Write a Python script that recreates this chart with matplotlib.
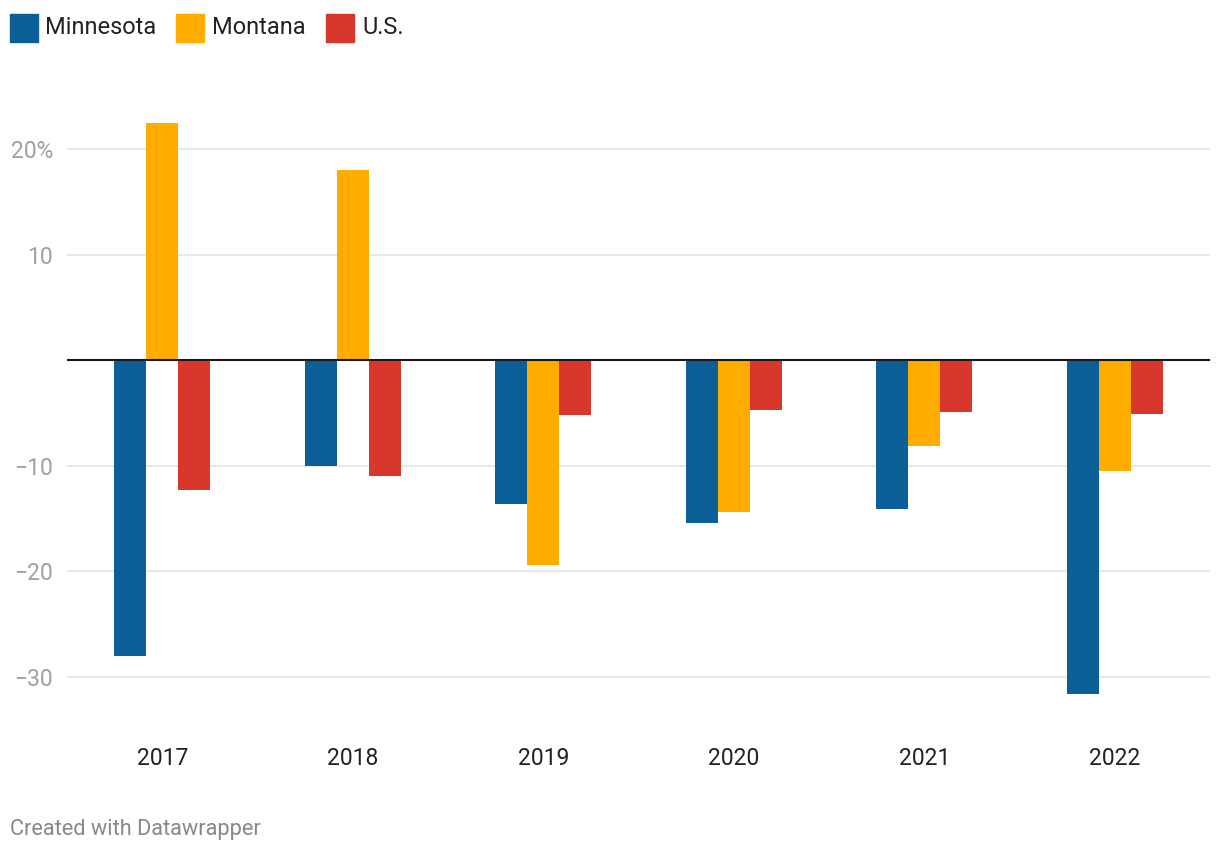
import matplotlib
matplotlib.use("Agg")
import matplotlib.pyplot as plt
import numpy as np
from matplotlib.patches import Rectangle

plt.rcParams['font.family'] = ['Roboto', 'DejaVu Sans']

years = ["2017", "2018", "2019", "2020", "2021", "2022"]
series_names = ["Minnesota", "Montana", "U.S."]
minnesota = [-28.0, -10.0, -13.6, -15.4, -14.1, -31.6]
montana = [22.5, 18.0, -19.4, -14.4, -8.1, -10.5]
us = [-12.3, -11.0, -5.2, -4.7, -4.9, -5.1]
colors = ["#0a5f96", "#ffab00", "#d8372b"]
yticks = [-30, -20, -10, 10, 20]
ytick_labels = ["\u221230", "\u221220", "\u221210", "10", "20%"]

W, H = 1220, 852
fig = plt.figure(figsize=(W / 100, H / 100), dpi=100)
ax_left, ax_right = 67, 1210
ax_top, ax_bot = 107, 719
ax = fig.add_axes([ax_left / W, 1 - ax_bot / H, (ax_right - ax_left) / W, (ax_bot - ax_top) / H])
ax.set_xlim(-0.5, 5.5)
ax.set_ylim(-34, 24)

x = np.arange(len(years))
bw = 0.168
for i, (vals, c) in enumerate(zip([minnesota, montana, us], colors)):
    ax.bar(x + (i - 1) * bw, vals, width=bw, color=c, zorder=3, linewidth=0)

for t in yticks:
    ax.axhline(t, color="#e3e3e3", lw=1.2, zorder=1)
ax.axhline(0, color="#1a1a1a", lw=1.5, zorder=5)

for s in ax.spines.values():
    s.set_visible(False)
ax.set_yticks(yticks)
ax.set_yticklabels(ytick_labels)
ax.tick_params(axis="y", length=0, pad=10, labelsize=16.5, labelcolor="#a0a0a0")
ax.set_xticks(x)
ax.set_xticklabels(years)
ax.tick_params(axis="x", length=0, pad=20, labelsize=16.5, labelcolor="#222222")

# legend
leg_items = [(10, 45), (176, 212), (326, 362)]
for (sx, tx), name, c in zip(leg_items, series_names, colors):
    fig.patches.append(Rectangle((sx / W, 1 - 42 / H), 28 / W, 28 / H, transform=fig.transFigure,
                                 color=c, zorder=10))
    fig.text(tx / W, 1 - 28 / H, name, fontsize=17, color="#222222", va="center", ha="left")

fig.text(10 / W, 1 - 829 / H, "Created with Datawrapper", fontsize=15.7, color="#888888",
         va="center", ha="left")

fig.savefig("out.png", dpi=100)
